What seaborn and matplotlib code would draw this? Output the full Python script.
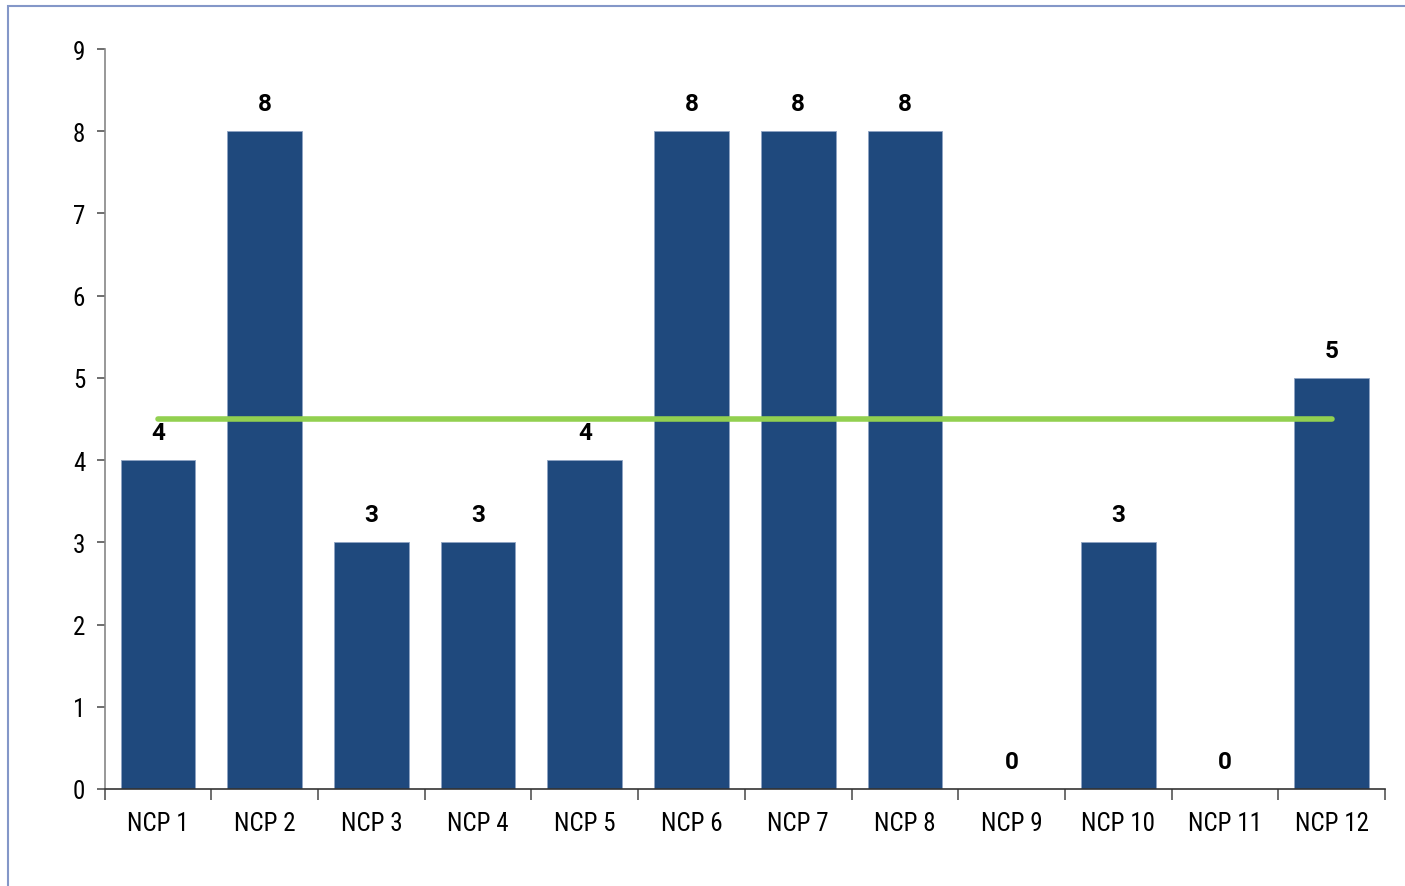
import matplotlib
matplotlib.use("Agg")
import matplotlib.pyplot as plt
from matplotlib.patches import Rectangle
import seaborn as sns
import pandas as pd

categories = ["NCP 1", "NCP 2", "NCP 3", "NCP 4", "NCP 5", "NCP 6",
              "NCP 7", "NCP 8", "NCP 9", "NCP 10", "NCP 11", "NCP 12"]
scores = [4, 8, 3, 3, 4, 8, 8, 8, 0, 3, 0, 5]
average = [4.5] * len(categories)
y_ticks = list(range(0, 10))

sns.set_theme(style="white")
plt.rcParams["font.family"] = ["Roboto Condensed", "DejaVu Sans"]

df = pd.DataFrame({"ncp": categories, "score": scores, "avg": average})

fig = plt.figure(figsize=(14.05, 8.87), dpi=100)
ax = fig.add_axes([0.0745, 0.1094, 0.9113, 0.8342])

sns.barplot(data=df, x="ncp", y="score", color="#1F497D", saturation=1,
            width=0.70, ax=ax, edgecolor="#8FA3C3", linewidth=0.6)

# average line across the categories
ax.plot(range(len(categories)), df["avg"], color="#92D050", lw=4,
        solid_capstyle="round", zorder=3)

# value labels above each bar
for i, v in enumerate(scores):
    ax.annotate(str(v), (i, v), xytext=(0, 20), textcoords="offset points",
                ha="center", va="center", fontsize=17.5, fontweight="bold",
                family=["Roboto", "DejaVu Sans"], color="black")

ax.set_xlim(-0.5, len(categories) - 0.5)
ax.set_ylim(0, 9)
ax.set_yticks(y_ticks)
ax.set_xlabel("")
ax.set_ylabel("")

for s in ["top", "right"]:
    ax.spines[s].set_visible(False)
ax.spines["left"].set_color("#868686")
ax.spines["bottom"].set_color("#333333")
ax.spines["left"].set_linewidth(1.2)
ax.spines["bottom"].set_linewidth(1.2)

ax.tick_params(axis="y", which="major", length=6, width=1.2, color="#555555",
               direction="out", left=True, labelsize=18, pad=8,
               labelcolor="black")
ax.tick_params(axis="x", which="major", length=0, labelsize=18, pad=16,
               labelcolor="black")
ax.set_xticks([i - 0.5 for i in range(len(categories) + 1)], minor=True)
ax.tick_params(axis="x", which="minor", length=8, width=1.2, color="#555555",
               direction="out", bottom=True)

# frame around the chart area
fig.patches.append(Rectangle((8 / 1405, -0.1), 1.2, 1.1 - 7 / 887,
                             transform=fig.transFigure, fill=False,
                             edgecolor="#8497C8", linewidth=1.5))

fig.savefig("out.png", dpi=100)
